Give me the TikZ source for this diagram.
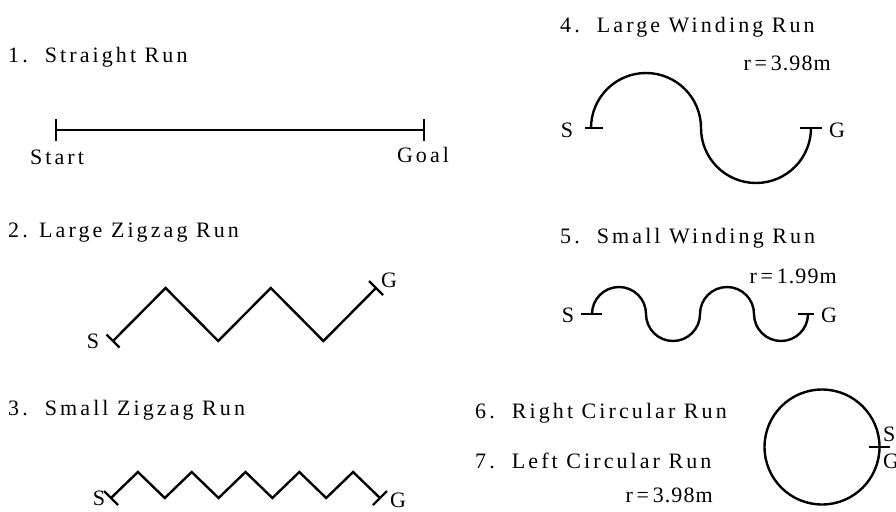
\documentclass[tikz,border=0pt]{standalone}
\usepackage{fontspec}
\setmainfont{Liberation Serif}[LetterSpace=14]
\newfontfamily\radfont{Liberation Serif}[LetterSpace=5]
\usetikzlibrary{calc}
\begin{document}
\begin{tikzpicture}[x=1pt,y=-1pt,
  lbl/.style={inner sep=0pt, font=\fontsize{22}{24}\selectfont},
  title/.style={lbl, anchor=west},
  rad/.style={inner sep=0pt, anchor=east, font=\fontsize{22}{24}\radfont},
  run/.style={line width=2.4pt, line join=miter},
  tickline/.style={line width=2.4pt}]
\useasboundingbox (0,0) rectangle (896,511);

% titles
\node[title] (t1) at (8,57) {1.\ \ Straight Run};
\node[title] (t2) at (8,233) {2. Large Zigzag Run};
\node[title] (t3) at (8,410) {3.\ \ Small Zigzag Run};
\node[title] (t4) at (560,27) {4.\ \ Large Winding Run};
\node[title] (t5) at (560,238) {5.\ \ Small Winding Run};
\node[title] (t6) at (475,413) {6.\ \ Right Circular Run};
\node[title] (t7) at (475,461) {7.\ \ Left Circular Run};
\node[rad] (r4) at (831,63) {r\,=\,3.98m};
\node[rad] (r5) at (837,276) {r\,=\,1.99m};
\node[rad] (r7) at (713,495) {r\,=\,3.98m};

% 1. straight run
\coordinate (s1) at (56,130);
\coordinate (g1) at (424,130);
\draw[run] (s1) -- (g1);
\draw[tickline] ($(s1)+(0,-11)$) -- ($(s1)+(0,11)$);
\draw[tickline] ($(g1)+(0,-11)$) -- ($(g1)+(0,11)$);
\node[lbl] (ls1) at (57,157) {Start};
\node[lbl] (lg1) at (423,155) {Goal};

% 2. large zigzag
\coordinate (s2) at (113,341);
\coordinate (p21) at (165.6,288);
\coordinate (v21) at (218.2,341);
\coordinate (p22) at (270.8,288);
\coordinate (v22) at (323.4,341);
\coordinate (g2) at (376,288);
\draw[run] (s2) -- (p21) -- (v21) -- (p22) -- (v22) -- (g2);
\draw[tickline] ($(s2)+(-6.5,-6.5)$) -- ($(s2)+(6.5,6.5)$);
\draw[tickline] ($(g2)+(-7,-7)$) -- ($(g2)+(7,7)$);
\node[lbl] (ls2) at (93,341) {S};
\node[lbl] (lg2) at (389,280) {G};

% 3. small zigzag
\coordinate (s3) at (111,498);
\coordinate (g3) at (380,498);
\draw[run] (s3)
  \foreach \k in {1,...,9} {
    -- ({111+26.9*\k}, {\k==1||\k==3||\k==5||\k==7||\k==9 ? 472 : 498})
  } -- (g3);
\draw[tickline] ($(s3)+(-7,-7)$) -- ($(s3)+(7,7)$);
\draw[tickline] ($(g3)+(-7,7)$) -- ($(g3)+(7,-7)$);
\node[lbl] (ls3) at (99,498) {S};
\node[lbl] (lg3) at (398,500) {G};

% 4. large winding
\coordinate (s4) at (591,128);
\coordinate (g4) at (811,128);
\draw[run] (s4) arc[start angle=180,end angle=0,radius=55pt]
               arc[start angle=180,end angle=360,radius=55pt];
\draw[tickline] (585,128) -- (603,128);
\draw[tickline] ($(g4)+(-11,0)$) -- ($(g4)+(11,0)$);
\node[lbl] (ls4) at (567,130) {S};
\node[lbl] (lg4) at (837,130) {G};

% 5. small winding
\coordinate (s5) at (592,314);
\coordinate (g5) at (808,314);
\draw[run] (s5) arc[start angle=180,end angle=0,radius=27pt]
               arc[start angle=180,end angle=360,radius=27pt]
               arc[start angle=180,end angle=0,radius=27pt]
               arc[start angle=180,end angle=360,radius=27pt];
\draw[tickline] (581,314) -- (602,314);
\draw[tickline] ($(g5)+(-10,0)$) -- ($(g5)+(6,0)$);
\node[lbl] (ls5) at (568,315) {S};
\node[lbl] (lg5) at (829,315) {G};

% 6/7. circular
\coordinate (c6) at (822,447);
\draw[run] (c6) circle[radius=57.5pt];
\coordinate (sg6) at (879.5,447);
\draw[tickline] ($(sg6)+(-11,0)$) -- ($(sg6)+(10,0)$);
\node[lbl, anchor=west] (ls6) at (883,434) {S};
\node[lbl, anchor=west] (lg6) at (883,461) {G};
\end{tikzpicture}
\end{document}
